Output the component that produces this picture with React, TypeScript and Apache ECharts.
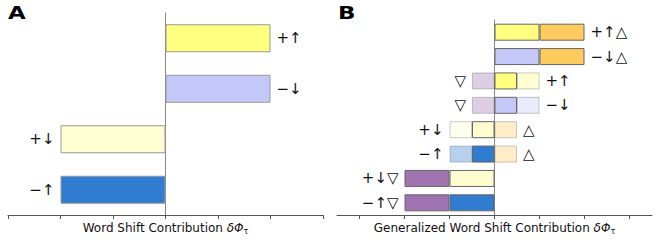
import React, { useEffect, useRef } from "react";
import * as echarts from "echarts";

// ---------- Panel A data ----------
const categoriesA = ["+↑", "−↓", "+↓", "−↑"];
const valuesA = [2, 2, -2, -2];
const colorsA = ["#FFFF80", "#C4C8F8", "#FEFED2", "#2F7CD0"];

// ---------- Panel B data ----------
const rowsB = ["r1", "r2", "r3", "r4", "r5", "r6", "r7", "r8"];
const rightInnerB = [1, 1, 0.5, 0.5, 0.5, 0.5, null, null];
const rightOuterB = [1, 1, 0.5, 0.5, null, null, null, null];
const leftInnerB = [null, null, -0.5, -0.5, -0.5, -0.5, -1, -1];
const leftOuterB = [null, null, null, null, -0.5, -0.5, -1, -1];
const rightLabelsB = ["+↑△", "−↓△", "+↑", "−↓", "△", "△", "", ""];
const leftLabelsB = ["", "", "▽", "▽", "+↓", "−↑", "+↓▽", "−↑▽"];
const ticksB = [-3, -2, -1, 0, 1, 2, 3];

// styles
const YEL = "#FFFF80";
const LAV = "#C4C8F8";
const LYEL = "#FDFDD0";
const BLUE = "#2F7CD0";
const ORG = "#FFCA5E";
const PUR = "#A074B0";
const FADE = 0.35;
const rightInnerStyle: [string, number][] = [
  [YEL, 1], [LAV, 1], [YEL, 1], [LAV, 1], [ORG, FADE], [ORG, FADE], [YEL, 1], [YEL, 1],
];
const rightOuterStyle: [string, number][] = [
  [ORG, 1], [ORG, 1], [YEL, FADE], [LAV, FADE], [ORG, 1], [ORG, 1], [ORG, 1], [ORG, 1],
];
const leftInnerStyle: [string, number][] = [
  [PUR, 1], [PUR, 1], [PUR, FADE], [PUR, FADE], [LYEL, 1], [BLUE, 1], [LYEL, 1], [BLUE, 1],
];
const leftOuterStyle: [string, number][] = [
  [PUR, 1], [PUR, 1], [PUR, 1], [PUR, 1], [LYEL, FADE], [BLUE, FADE], [PUR, 1], [PUR, 1],
];

const FONT = "DejaVu Sans";
const LABEL_SIZE = 15;

function rgba(hex: string, a: number) {
  const r = parseInt(hex.slice(1, 3), 16);
  const g = parseInt(hex.slice(3, 5), 16);
  const b = parseInt(hex.slice(5, 7), 16);
  return `rgba(${r},${g},${b},${a})`;
}

function axisName(text: string) {
  return `${text} {m|δΦ}{s|τ}`;
}

const nameRich = {
  m: { fontFamily: FONT, fontSize: 12, fontStyle: "italic", color: "#111" },
  s: { fontFamily: FONT, fontSize: 8, color: "#111", verticalAlign: "bottom", padding: [6, 0, 0, 0] },
};

export default function App() {
  const ref = useRef<HTMLDivElement>(null);
  useEffect(() => {
    document.body.style.margin = "0";
    if (!ref.current) return;
    const chart = echarts.init(ref.current, undefined, { renderer: "svg" });

    const labelBase = {
      fontFamily: FONT,
      fontSize: LABEL_SIZE,
      color: "#111",
      distance: 6,
    };

    const dataA = valuesA.map((v, i) => ({
      value: v,
      itemStyle: { color: colorsA[i], borderColor: "#999", borderWidth: 1 },
      label: {
        show: true,
        position: v >= 0 ? "right" : "left",
        formatter: categoriesA[i],
        ...labelBase,
      },
    }));

    const outermost = (inner: (number | null)[], outer: (number | null)[]) => ({
      inner: inner.map((v, i) => v != null && outer[i] == null),
      outer: outer.map((v) => v != null),
    });
    const rSide = outermost(rightInnerB, rightOuterB);
    const lSide = outermost(leftInnerB, leftOuterB);

    const mk = (
      vals: (number | null)[],
      styles: [string, number][],
      labelFlags: boolean[],
      labels: string[],
      pos: string
    ) =>
      vals.map((v, i) => {
        if (v == null) return "-";
        const [c, a] = styles[i];
        return {
          value: v,
          itemStyle: {
            color: rgba(c, a),
            borderColor: rgba("#666666", a < 1 ? 0.35 : 1),
            borderWidth: 1,
          },
          label: {
            show: labelFlags[i] && labels[i] !== "",
            position: pos,
            formatter: labels[i],
            ...labelBase,
          },
        };
      });

    const xAxisCommon = {
      type: "value",
      nameLocation: "middle",
      nameGap: 6,
      nameTextStyle: { fontFamily: FONT, fontSize: 12, color: "#111", rich: nameRich },
      axisLine: { show: true, onZero: false, lineStyle: { color: "#555", width: 1 } },
      axisTick: { show: true, inside: false, length: 4, lineStyle: { color: "#555" } },
      axisLabel: { show: false },
      splitLine: { show: false },
    };
    const yAxisCommon = {
      type: "category",
      inverse: true,
      axisLine: { show: true, onZero: true, lineStyle: { color: "#888", width: 1 } },
      axisTick: { show: false },
      axisLabel: { show: false },
      splitLine: { show: false },
    };

    chart.setOption({
      animation: false,
      grid: [
        { left: 8, width: 315, top: 13, bottom: 23 },
        { left: 337, width: 315, top: 20, bottom: 23 },
      ],
      xAxis: [
        {
          ...xAxisCommon,
          gridIndex: 0,
          min: -3,
          max: 3,
          interval: 1,
          name: axisName("Word Shift Contribution"),
        },
        {
          ...xAxisCommon,
          gridIndex: 1,
          min: -3.5,
          max: 3.5,
          axisTick: { ...xAxisCommon.axisTick, customValues: ticksB },
          name: axisName("Generalized Word Shift Contribution"),
        },
      ],
      yAxis: [
        { ...yAxisCommon, gridIndex: 0, data: categoriesA },
        { ...yAxisCommon, gridIndex: 1, data: rowsB },
      ],
      graphic: [
        {
          type: "text",
          x: 8,
          y: 5,
          scaleX: 1.35,
          style: { text: "A", fontFamily: FONT, fontWeight: 900, fontSize: 17, fill: "#000", textVerticalAlign: "top" },
        },
        {
          type: "text",
          x: 338,
          y: 5,
          scaleX: 1.35,
          style: { text: "B", fontFamily: FONT, fontWeight: 900, fontSize: 17, fill: "#000", textVerticalAlign: "top" },
        },
      ],
      series: [
        {
          type: "bar",
          xAxisIndex: 0,
          yAxisIndex: 0,
          barWidth: 28,
          data: dataA,
        },
        {
          type: "bar",
          xAxisIndex: 1,
          yAxisIndex: 1,
          stack: "b",
          barWidth: 17,
          data: mk(rightInnerB, rightInnerStyle, rSide.inner, rightLabelsB, "right"),
        },
        {
          type: "bar",
          xAxisIndex: 1,
          yAxisIndex: 1,
          stack: "b",
          barWidth: 17,
          data: mk(rightOuterB, rightOuterStyle, rSide.outer, rightLabelsB, "right"),
        },
        {
          type: "bar",
          xAxisIndex: 1,
          yAxisIndex: 1,
          stack: "b",
          barWidth: 17,
          data: mk(leftInnerB, leftInnerStyle, lSide.inner, leftLabelsB, "left"),
        },
        {
          type: "bar",
          xAxisIndex: 1,
          yAxisIndex: 1,
          stack: "b",
          barWidth: 17,
          data: mk(leftOuterB, leftOuterStyle, lSide.outer, leftLabelsB, "left"),
        },
      ],
    });
    return () => chart.dispose();
  }, []);
  return <div ref={ref} style={{ width: 660, height: 240 }} />;
}
